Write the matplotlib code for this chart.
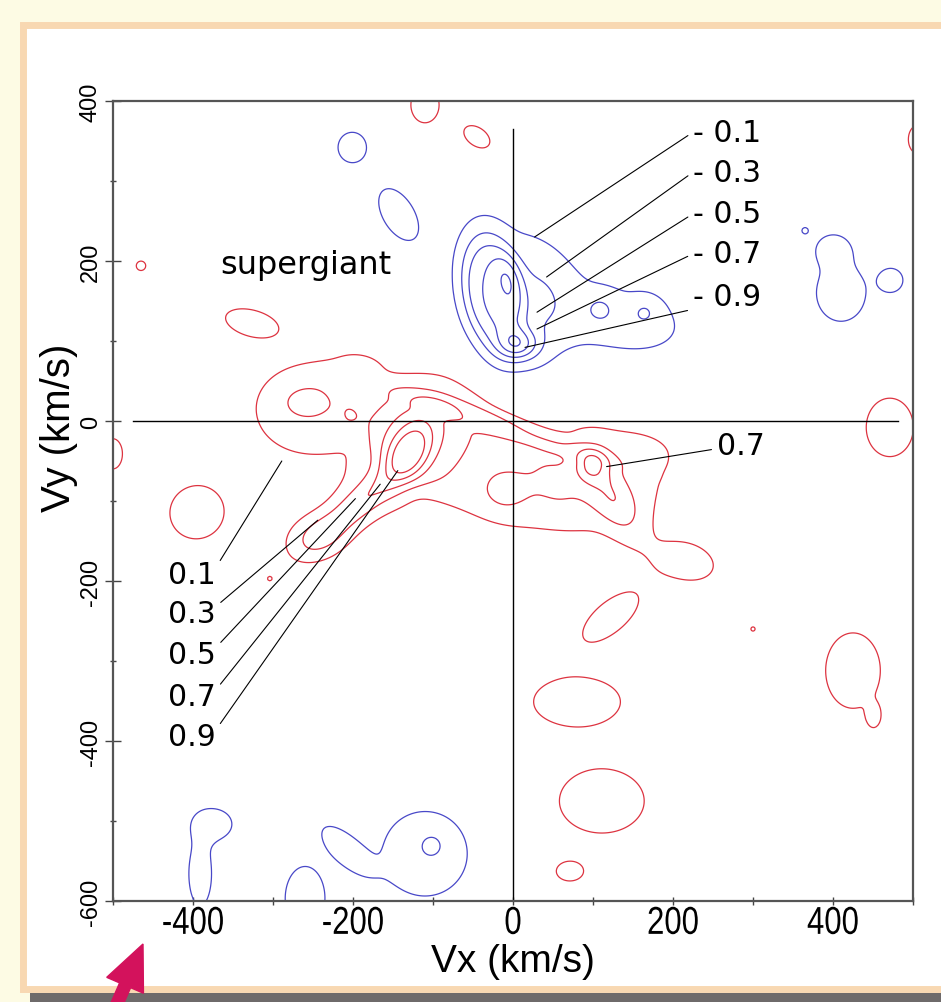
import numpy as np
import matplotlib
matplotlib.use("Agg")
import matplotlib.pyplot as plt
from matplotlib import font_manager
from matplotlib.patches import Rectangle, FancyArrow
from matplotlib.patheffects import AbstractPathEffect
from matplotlib.transforms import Affine2D

plt.rcParams['axes.unicode_minus'] = False

# ---------------- data ----------------
vx_lim = (-500, 500)
vy_lim = (-600, 400)
x_major = [-400, -200, 0, 200, 400]
x_minor = [-500, -300, -100, 100, 300, 500]
y_major = [-600, -400, -200, 0, 200, 400]
y_minor = [-500, -300, -100, 100, 300]
levels_pos = [0.1, 0.3, 0.5, 0.7, 0.9]
levels_neg = [-0.9, -0.7, -0.5, -0.3, -0.1]

# positive (red) density components:
# centre (km/s), widths along / across the axis, axis angle (deg), profile power, amplitude
red_cx  = [-255, -258, -132, -130, -195, -245, -200,  -50,  -10,  98,  125,  110,  215, 165,  -20,
           -110,  -45, 506, -465, -326, -500, -395, -304, 122,   80,  111,   71,  425,  451,  471, 300]
red_cy  = [  15,   23,  -42,  -20, -105, -145,   68,  -45,  -88, -55,  -95,  -70, -175, -40,   -4,
            395,  355, 352,  194,  122,  -41, -114, -197, -245, -351, -475, -563, -312, -369,   -8, -260]
red_sa  = [  60,   20,   30,   60,   45,   25,   30,  140,   22,  15,   40,   75,   35,  25,  125,
             15,   16,  10,    5,   29,   10,   29,    3,   36,   46,   45,   14,   29,    6,   25,   3]
red_sb  = [  50,   14,   17,   40,   15,   18,   16,   60,   22,  15,   18,   60,   22,  15,   13,
             19,   10,  15,    5,   14,   16,   28,    3,   16,   26,   34,   10,   40,   10,   31,   3]
red_ang = [   0,    0,   60,   45,   40,   20,    0,  -25,    0,   0,  -60,    0,  -15,   0,  -18,
              0,  -35,   0,    0,  -15,    0,   30,    0,   40,    0,    0,    0,    0,    0,    0,   0]
red_pw  = [   6,    2,    2,    2,    2,    2,    2,    6,    2,   2,    2,    4,    2,   2,    4,
              2,    2,   2,    2,    2,    2,    2,    2,   2,    2,    2,    2,    2,    2,    2,   2]
red_amp = [0.24, 0.12, 0.65, 0.32, 0.40, 0.30, 0.15, 0.22, 0.13, 0.45, 0.35, 0.15, 0.17, 0.10, 0.165,
           0.20, 0.20, 0.20, 0.20, 0.20, 0.20, 0.20, 0.15, 0.20, 0.20, 0.20, 0.20, 0.20, 0.20, 0.20, 0.15]

# negative (blue) density components
blue_cx  = [   8,  -25,   25,   -7,  -10, 140, 109, 165, -201, -144, 410, 400, 365, 473, -375, -391, -110, -210, -101, -260]
blue_cy  = [  95,  160,  150,  182,  170, 125, 140, 136,  342,  259, 160, 215, 238, 176, -504, -566, -541, -535, -530, -597]
blue_sa  = [  18,   65,   35,   20,   75,  60,  14,  13,   15,   29,  26,  17,   4,  12,   20,   12,   42,   30,   12,   21]
blue_sb  = [  14,   32,   40,   12,   55,  32,  14,  13,   16,   16,  30,  15,   4,  12,   16,   34,   42,   13,   12,   34]
blue_ang = [   0,  100,    0,  100,  100, -10,   0,   0,    0,  -60,   0,   0,   0,   0,    0,    0,    0,  -45,    0,    0]
blue_pw  = [   2,    4,    2,    2,    2,   2,   2,   2,    2,    2,   2,   2,   2,   2,    2,    2,    2,    2,    2,    2]
blue_amp = [0.58, 0.55, 0.25, 0.18, 0.12, 0.17, 0.18, 0.18, 0.20, 0.20, 0.20, 0.18, 0.15, 0.20, 0.20, 0.20, 0.22, 0.20, 0.15, 0.20]

# contour level annotations
neg_labels = ["- 0.1", "- 0.3", "- 0.5", "- 0.7", "- 0.9"]
neg_text_xy = [(225, 361), (225, 311), (225, 259), (225, 209), (225, 156)]
neg_point_xy = [(27, 230), (42, 180), (30, 136), (30, 115), (15, 92)]
pos_labels = ["0.1", "0.3", "0.5", "0.7", "0.9"]
pos_text_xy = [(-431, -192), (-431, -241), (-431, -292), (-431, -345), (-431, -395)]
pos_point_xy = [(-289, -50), (-244, -124), (-197, -97), (-166, -79), (-144, -62)]
right_label = "0.7"
right_text_xy = (255, -31)
right_point_xy = (117, -57)
group_label = "supergiant"
group_label_xy = (-366, 195)
hline_span = (-475, 481)
vline_span = (-600, 365)

RED = "#dd3340"
BLUE = "#4848c8"


def density(cx, cy, sa, sb, ang, pw, amp, X, Y):
    Z = np.zeros_like(X)
    for x0, y0, a, b, t, p, A in zip(cx, cy, sa, sb, ang, pw, amp):
        t = np.deg2rad(t)
        dx, dy = X - x0, Y - y0
        u = dx * np.cos(t) + dy * np.sin(t)
        w = -dx * np.sin(t) + dy * np.cos(t)
        r2 = (u / a) ** 2 + (w / b) ** 2
        Z += A * np.exp(-0.5 * r2 ** (p / 2))
    return Z


class Squeeze(AbstractPathEffect):
    """Scale glyph outlines about their own centre."""
    def __init__(self, sx=1.0, sy=1.0):
        super().__init__()
        self.sx, self.sy = sx, sy

    def draw_path(self, renderer, gc, tpath, affine, rgbFace=None):
        ext = tpath.get_extents()
        cx = ext.x0 + ext.width / 2
        cy = ext.y0 + ext.height / 2
        t = Affine2D().translate(-cx, -cy).scale(self.sx, self.sy).translate(cx, cy)
        renderer.draw_path(gc, tpath, t + affine, rgbFace)


def has_font(name):
    try:
        font_manager.findfont(font_manager.FontProperties(family=name), fallback_to_default=False)
        return True
    except ValueError:
        return False


W, H = 941, 1003
fig = plt.figure(figsize=(W / 100, H / 100), dpi=100)
fig.patch.set_facecolor("#fdfbe4")

def fx(px):
    return px / W

def fy(py):
    return 1 - py / H

# page panel, bottom bar and pointer
fig.patches.append(Rectangle((fx(23), fy(990)), fx(950) - fx(23), fy(26) - fy(990),
                             transform=fig.transFigure, facecolor="white",
                             edgecolor="#f8d8b2", lw=5, zorder=-10))
fig.patches.append(Rectangle((fx(30), 0), 1, (H - 994) / H, transform=fig.transFigure,
                             facecolor="#6e6a6a", edgecolor="none", zorder=-5))
fig.patches.append(FancyArrow(1.135, -0.10, 0.295, 0.68, width=0.12, head_width=0.40,
                              head_length=0.45, length_includes_head=True,
                              transform=fig.dpi_scale_trans, color="#d3125c", zorder=5))

ax = fig.add_axes([fx(113), fy(902), 800 / W, 800 / H])
ax.set_facecolor("white")

gx = np.linspace(vx_lim[0], vx_lim[1], 501)
gy = np.linspace(vy_lim[0], vy_lim[1], 501)
X, Y = np.meshgrid(gx, gy)
Z = density(red_cx, red_cy, red_sa, red_sb, red_ang, red_pw, red_amp, X, Y) \
    - density(blue_cx, blue_cy, blue_sa, blue_sb, blue_ang, blue_pw, blue_amp, X, Y)

ax.contour(X, Y, Z, levels=levels_neg + levels_pos,
           colors=[BLUE] * len(levels_neg) + [RED] * len(levels_pos),
           linewidths=0.9, linestyles="solid")

ax.plot(hline_span, [0, 0], color="black", lw=1.0)
ax.plot([0, 0], vline_span, color="black", lw=1.0)

ax.set_xlim(*vx_lim)
ax.set_ylim(*vy_lim)
ax.set_xticks(x_major)
ax.set_xticks(x_minor, minor=True)
ax.set_yticks(y_major)
ax.set_yticks(y_minor, minor=True)

for s in ax.spines.values():
    s.set_color("#555555")
    s.set_linewidth(1.6)

ax.tick_params(which="both", direction="inout", color="#444444", width=1.0)
ax.tick_params(axis="x", which="both", length=6, pad=0.5)
ax.tick_params(axis="y", which="major", length=12, pad=2)
ax.tick_params(axis="y", which="minor", length=5)
ax.tick_params(axis="y", labelrotation=90)

if has_font("Liberation Sans Narrow"):
    for lbl in ax.get_xticklabels():
        lbl.set_fontfamily("Liberation Sans Narrow")
        lbl.set_fontsize(28)
else:
    for lbl in ax.get_xticklabels():
        lbl.set_fontfamily("Liberation Sans")
        lbl.set_fontsize(28)
        lbl.set_path_effects([Squeeze(0.8, 1.0)])
for lbl in ax.get_yticklabels():
    lbl.set_fontfamily("Liberation Sans")
    lbl.set_fontsize(17)
    lbl.set_va("center")

ax.set_xlabel("Vx (km/s)", fontsize=28, family="Liberation Sans", va="center")
ax.xaxis.set_label_coords(0.5, (902 - 962) / 800)
ax.set_ylabel("Vy (km/s)", fontsize=29, family="Liberation Sans", va="center",
              ha="center", rotation=90, rotation_mode="default")
ax.yaxis.set_label_coords((59 - 113) / 800, (902 - 428) / 800)

lead = dict(arrowstyle="-", color="black", lw=0.8, shrinkA=2, shrinkB=0)
for i, (txt, txy, pxy) in enumerate(zip(neg_labels, neg_text_xy, neg_point_xy)):
    rel = (0, 0.05) if i == len(neg_labels) - 1 else (0, 0.5)
    ax.annotate(txt, xy=pxy, xytext=txy, fontsize=21.5, family="DejaVu Sans",
                ha="left", va="center", arrowprops=dict(lead, relpos=rel))
for txt, txy, pxy in zip(pos_labels, pos_text_xy, pos_point_xy):
    ax.annotate(txt, xy=pxy, xytext=txy, fontsize=21.5, family="DejaVu Sans",
                ha="left", va="center", arrowprops=dict(lead, relpos=(1, 0.75)))
ax.annotate(right_label, xy=right_point_xy, xytext=right_text_xy, fontsize=21.5,
            family="DejaVu Sans", ha="left", va="center",
            arrowprops=dict(lead, relpos=(0, 0.4)))
ax.text(*group_label_xy, group_label, fontsize=23, family="DejaVu Sans",
        ha="left", va="center")

fig.savefig("out.png", dpi=100, facecolor=fig.get_facecolor())
